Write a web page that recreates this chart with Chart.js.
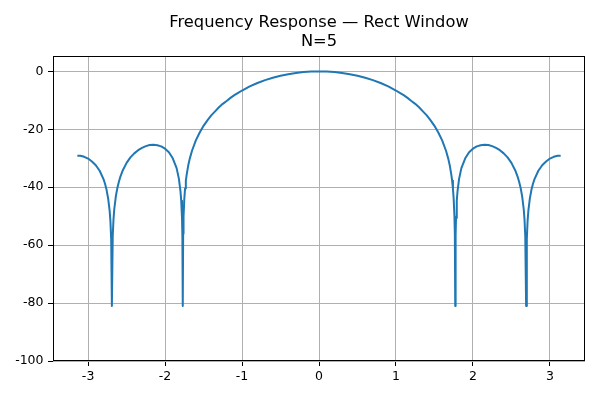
<!DOCTYPE html>
<html>
<head>
<meta charset="utf-8">
<script src="https://cdn.jsdelivr.net/npm/chart.js@4.4.1/dist/chart.umd.min.js"></script>
<style>
  html, body { margin: 0; padding: 0; background: #ffffff; }
  #wrap { width: 600px; height: 400px; }
</style>
</head>
<body>
<div id="wrap"><canvas id="c" width="600" height="400"></canvas></div>
<script>
// Angular frequency (rad/sample)
const omega = [
  -3.14, -3.10, -3.05, -3.00, -2.95, -2.90, -2.85, -2.80, -2.78, -2.76, -2.74, -2.72,
  -2.71, -2.70, -2.691, -2.68, -2.67, -2.66, -2.64, -2.62, -2.60, -2.58, -2.55, -2.50,
  -2.45, -2.40, -2.35, -2.30, -2.25, -2.20, -2.15, -2.10, -2.05, -2.00, -1.95, -1.90,
  -1.85, -1.82, -1.80, -1.79, -1.78, -1.775, -1.770, -1.765, -1.76, -1.75, -1.74, -1.73,
  -1.72, -1.70, -1.68, -1.65, -1.60, -1.55, -1.50, -1.45, -1.40, -1.35, -1.30, -1.25,
  -1.20, -1.15, -1.10, -1.05, -1.00, -0.90, -0.80, -0.70, -0.60, -0.50, -0.40, -0.30,
  -0.20, -0.10,
  0.0,
  0.10, 0.20,
  0.30, 0.40, 0.50, 0.60, 0.70, 0.80, 0.90, 1.00, 1.05, 1.10, 1.15, 1.20,
  1.25, 1.30, 1.35, 1.40, 1.45, 1.50, 1.55, 1.60, 1.65, 1.68, 1.70, 1.72,
  1.73, 1.74, 1.75, 1.76, 1.765, 1.770, 1.775, 1.78, 1.79, 1.80, 1.82, 1.85,
  1.90, 1.95, 2.00, 2.05, 2.10, 2.15, 2.20, 2.25, 2.30, 2.35, 2.40, 2.45,
  2.50, 2.55, 2.58, 2.60, 2.62, 2.64, 2.66, 2.67, 2.68, 2.691, 2.70, 2.71,
  2.72, 2.74, 2.76, 2.78, 2.80, 2.85, 2.90, 2.95, 3.00, 3.05, 3.10, 3.14
];
// Magnitude (dB)
const magnitudeDb = [
  -29.1, -29.1, -29.5, -30.1, -31.1, -32.4, -34.3, -37.2, -38.8, -40.9, -43.8, -48.2,
  -51.7, -58.0, -81.0, -56.9, -51.1, -47.6, -43.2, -40.3, -38.1, -36.3, -34.2, -31.6,
  -29.7, -28.3, -27.2, -26.4, -25.8, -25.4, -25.3, -25.5, -25.9, -26.7, -27.9, -30.0,
  -33.4, -37.1, -41.3, -44.7, -50.6, -56.7, -81.0, -56.1, -50.2, -44.1, -40.4, -37.8,
  -35.8, -32.6, -30.2, -27.4, -23.8, -21.1, -18.8, -16.9, -15.2, -13.8, -12.4, -11.2,
  -10.2, -9.15, -8.2, -7.4, -6.6, -5.2, -4.0, -3.0, -2.2, -1.5, -0.96, -0.54,
  -0.24, -0.06,
  0.0,
  -0.06, -0.24,
  -0.54, -0.96, -1.5, -2.2, -3.0, -4.0, -5.2, -6.6, -7.4, -8.2, -9.15, -10.2,
  -11.2, -12.4, -13.8, -15.2, -16.9, -18.8, -21.1, -23.8, -27.4, -30.2, -32.6, -35.8,
  -37.8, -40.4, -44.1, -50.2, -56.1, -81.0, -56.7, -50.6, -44.7, -41.3, -37.1, -33.4,
  -30.0, -27.9, -26.7, -25.9, -25.5, -25.3, -25.4, -25.8, -26.4, -27.2, -28.3, -29.7,
  -31.6, -34.2, -36.3, -38.1, -40.3, -43.2, -47.6, -51.1, -56.9, -81.0, -58.0, -51.7,
  -48.2, -43.8, -40.9, -38.8, -37.2, -34.3, -32.4, -31.1, -30.1, -29.5, -29.1, -29.1
];
const xTicks = [-3, -2, -1, 0, 1, 2, 3];
const yTicks = [-100, -80, -60, -40, -20, 0];
const titleLines = ['Frequency Response \u2014 Rect Window', 'N=5'];

const points = omega.map((w, i) => ({ x: w, y: magnitudeDb[i] }));

const frameBox = {
  id: 'frameBox',
  afterDatasetsDraw(chart) {
    const a = chart.chartArea, ctx = chart.ctx;
    ctx.save();
    ctx.strokeStyle = '#000000';
    ctx.lineWidth = 1;
    ctx.strokeRect(Math.round(a.left) + 0.5, Math.round(a.top) + 0.5,
                   Math.round(a.right - a.left) - 1, Math.round(a.bottom - a.top) - 1);
    ctx.restore();
  }
};

const tickFont = { family: 'DejaVu Sans', size: 12.5 };

new Chart(document.getElementById('c'), {
  type: 'line',
  data: {
    datasets: [{
      data: points,
      borderColor: '#1f77b4',
      borderWidth: 2,
      borderJoinStyle: 'round',
      pointRadius: 0,
      fill: false,
      tension: 0
    }]
  },
  options: {
    responsive: false,
    animation: false,
    layout: { padding: { left: 0, right: 15, top: 0, bottom: 0 } },
    plugins: {
      legend: { display: false },
      tooltip: { enabled: false },
      title: {
        display: true,
        fullSize: false,
        text: titleLines,
        color: '#000000',
        font: { family: 'DejaVu Sans', size: 16.3, weight: 'normal', lineHeight: 1.13 },
        padding: { top: 14, bottom: 5.5 }
      }
    },
    scales: {
      x: {
        type: 'linear',
        min: -3.456,
        max: 3.456,
        afterBuildTicks(scale) { scale.ticks = xTicks.map(v => ({ value: v })); },
        afterFit(scale) { scale.height = 39; },
        ticks: { color: '#000000', font: tickFont, padding: 3, maxRotation: 0,
                 callback: v => String(v) },
        grid: { color: '#b0b0b0', lineWidth: 1, tickColor: '#000000', tickLength: 5 },
        border: { display: false }
      },
      y: {
        type: 'linear',
        min: -100,
        max: 5.2,
        afterBuildTicks(scale) { scale.ticks = yTicks.map(v => ({ value: v })); },
        afterFit(scale) { scale.width = 53; },
        ticks: { color: '#000000', font: tickFont, padding: 4.5,
                 callback: v => String(v) },
        grid: { color: '#b0b0b0', lineWidth: 1, tickColor: '#000000', tickLength: 5 },
        border: { display: false }
      }
    }
  },
  plugins: [frameBox]
});
</script>
</body>
</html>
